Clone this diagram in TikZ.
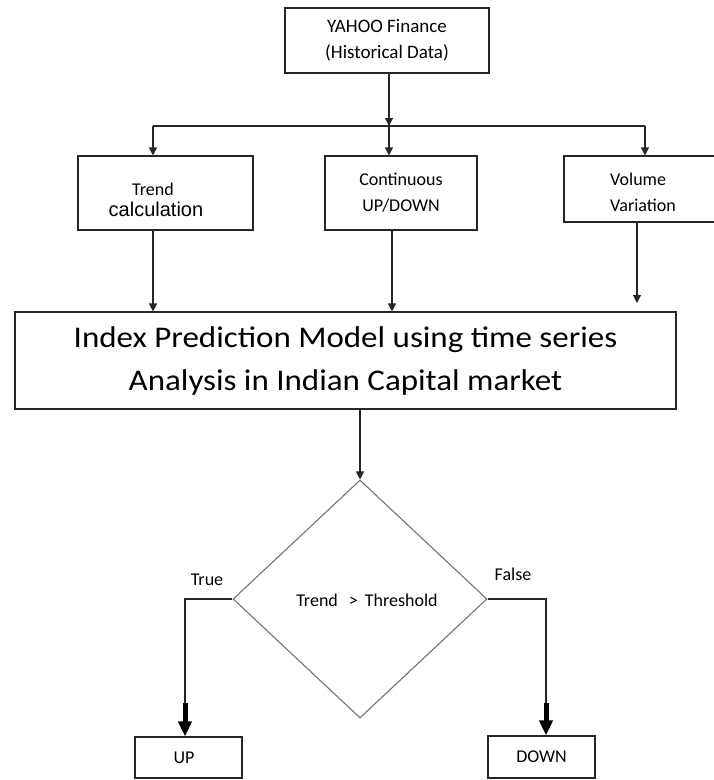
\documentclass[tikz,border=0pt]{standalone}
\usepackage{fontspec}
\setmainfont{Carlito}
\newfontfamily\arialfont{Liberation Sans}
\newfontfamily\widefont[FakeStretch=1.1]{Carlito}
\usetikzlibrary{arrows.meta,shapes.geometric}
\begin{document}
\begin{tikzpicture}[x=1pt,y=-1pt,
  box/.style={draw=black!85, line width=1.1pt, inner sep=0pt, align=center, font=\fontsize{18}{26}\selectfont},
  txt/.style={inner sep=0pt, align=center, font=\fontsize{18}{26}\selectfont},
  conn/.style={draw=black!85, line width=1.1pt},
  arr/.style={conn, -{Triangle[length=8pt,width=8pt]}},
  bigarr/.style={draw=black, line width=5pt, -{Triangle[length=15pt,width=13pt]}},
  decision/.style={diamond, draw=black!55, line width=1.1pt, inner sep=0pt}
]
\useasboundingbox[fill=white] (0,0) rectangle (714,780);

% boxes
\node[box, minimum width=204, minimum height=65, font=\fontsize{19}{26}\selectfont] (yahoo) at (387,40.5) {YAHOO Finance\\(Historical Data)};

\node[box, minimum width=175, minimum height=74] (trend) at (165.5,193) {};
\node[txt, anchor=base] (trendA) at (153,195) {Trend};
\node[txt, anchor=base, font=\fontsize{20}{24}\arialfont] (trendB) at (156,216) {calculation};

\node[box, minimum width=152, minimum height=74] (cont) at (401,193) {Continuous\\UP/DOWN};

\node[box, minimum width=162, minimum height=66] (vol) at (645,189) {};
\node[txt, align=left, anchor=west] (volt) at (610,192) {Volume\\Variation};

\node[box, minimum width=661, minimum height=97, font=\fontsize{30}{43}\widefont] (main) at (345.5,360.5) {Index Prediction Model using time series\\Analysis in Indian Capital market};

\node[decision, minimum width=254, minimum height=238] (dec) at (360,599) {};
\node[txt] (dect) at (367,600) {Trend\hspace{11pt}>\hspace{7pt}Threshold};

\node[box, minimum width=107, minimum height=41] (up) at (188.5,757.5) {UP\hspace*{9pt}};
\node[box, minimum width=107, minimum height=42] (down) at (541.5,757) {DOWN};

\node[txt] (truelbl) at (207,580) {True};
\node[txt] (falselbl) at (513,574) {False};

% connectors
\coordinate (split) at (389,126);
\coordinate (hl) at (153,126);
\coordinate (hr) at (645,126);
\draw[arr] (split |- yahoo.south) -- (split);
\draw[conn] (hl) -- (hr);
\draw[arr] (hl) -- (hl |- trend.north);
\draw[arr] (split) -- (split |- cont.north);
\draw[arr] (hr) -- (hr |- vol.north);

\coordinate (cx) at (392,0);
\coordinate (vend) at (637,303);
\draw[arr] (hl |- trend.south) -- (hl |- main.north);
\draw[arr] (cx |- cont.south) -- (cx |- main.north);
\draw[arr] (vend |- vol.south) -- (vend);

\draw[arr] (dec.north |- main.south) -- (dec.north);

\coordinate (tlow) at (185,703);
\coordinate (flow) at (546,703);
\draw[conn] (dec.west) -| (tlow);
\draw[bigarr] (tlow) -- (tlow |- up.north);
\draw[conn] (dec.east) -| (flow);
\draw[bigarr] (flow) -- (flow |- down.north);
\end{tikzpicture}
\end{document}
